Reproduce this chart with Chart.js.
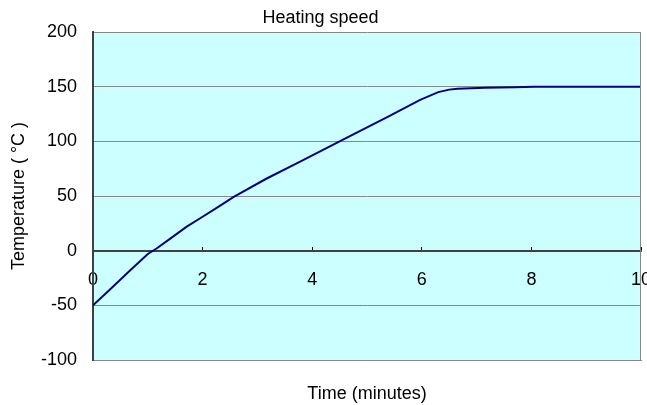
<!DOCTYPE html>
<html>
<head>
<meta charset="utf-8">
<script src="https://cdn.jsdelivr.net/npm/chart.js@4/dist/chart.umd.min.js"></script>
<style>
  body { margin: 0; background: #fff; }
  #wrap { width: 647px; height: 405px; }
</style>
</head>
<body>
<div id="wrap"><canvas id="grafico" width="647" height="405"></canvas></div>
<script>
const tempos = [0, 0.3, 0.68, 1.0, 1.16, 1.41, 1.71, 2.0, 2.3, 2.56, 3.17, 3.78, 4.5, 5.36, 5.97, 6.3, 6.5, 6.65, 7.15, 7.7, 8.05, 9, 10];
const temperaturas = [-50, -36, -18, -3, 2, 11, 22, 31, 40.5, 49, 66, 81.5, 100, 122, 138, 145, 147.3, 148, 149, 149.5, 150, 150, 150];
const ticksX = [0, 2, 4, 6, 8, 10];
const ticksY = [-100, -50, 0, 50, 100, 150, 200];

const fonte = 'Liberation Sans, Arial, sans-serif';

const fundo = {
  id: 'fundo',
  beforeDraw(chart) {
    const { ctx, chartArea: a } = chart;
    ctx.save();
    ctx.fillStyle = '#ccffff';
    ctx.fillRect(a.left, a.top, a.right - a.left, a.bottom - a.top);
    ctx.restore();
  },
  afterDraw(chart) {
    const { ctx, chartArea: a } = chart;
    ctx.save();
    ctx.strokeStyle = '#888';
    ctx.lineWidth = 1;
    ctx.beginPath();
    ctx.moveTo(a.right - 0.5, a.top);
    ctx.lineTo(a.right - 0.5, a.bottom);
    ctx.stroke();
    ctx.restore();
  }
};

new Chart(document.getElementById('grafico'), {
  type: 'line',
  data: {
    datasets: [{
      label: 'Heating speed',
      data: tempos.map((t, i) => ({ x: t, y: temperaturas[i] })),
      borderColor: '#000080',
      borderWidth: 2,
      pointRadius: 0,
      tension: 0,
      fill: false
    }]
  },
  options: {
    responsive: false,
    animation: false,
    layout: { padding: { left: 0, right: 6, top: 0, bottom: 0 } },
    plugins: {
      legend: { display: false },
      tooltip: { enabled: false },
      title: {
        display: true,
        text: 'Heating speed',
        color: '#000',
        font: { family: fonte, size: 18, weight: 'normal' },
        padding: { top: 7, bottom: 3.4 }
      }
    },
    scales: {
      x: {
        type: 'linear',
        position: 'bottom',
        min: 0,
        max: 10,
        ticks: { display: false, stepSize: 2 },
        grid: { drawOnChartArea: false, drawTicks: false },
        border: { color: '#888', width: 1 },
        title: {
          display: true,
          text: 'Time (minutes)',
          color: '#000',
          font: { family: fonte, size: 18 },
          padding: { top: 0, bottom: 0 }
        },
        afterFit(s) { s.height = 45; s.paddingLeft = 0; s.paddingRight = 0; }
      },
      x2: {
        type: 'linear',
        position: { y: 0 },
        min: 0,
        max: 10,
        afterBuildTicks(s) { s.ticks = ticksX.map(v => ({ value: v })); },
        ticks: { color: '#000', font: { family: fonte, size: 18 }, padding: 23.5, maxRotation: 0, autoSkip: false },
        grid: { drawOnChartArea: false, drawTicks: true, tickLength: -5, color: '#000' },
        border: { color: '#404040', width: 2 },
        afterFit(s) { s.paddingLeft = 0; s.paddingRight = 0; }
      },
      y: {
        min: -100,
        max: 200,
        afterBuildTicks(s) { s.ticks = ticksY.map(v => ({ value: v })); },
        ticks: { color: '#000', font: { family: fonte, size: 18 }, padding: 16 },
        grid: { color: '#888', lineWidth: 1, drawTicks: false },
        border: { color: '#404040', width: 2 },
        title: {
          display: true,
          text: 'Temperature ( °C )',
          color: '#000',
          font: { family: fonte, size: 18 },
          padding: { top: 8, bottom: 0 }
        },
        afterFit(s) { s.width = 93; s.paddingTop = 0; s.paddingBottom = 0; }
      }
    }
  },
  plugins: [fundo]
});
</script>
</body>
</html>
